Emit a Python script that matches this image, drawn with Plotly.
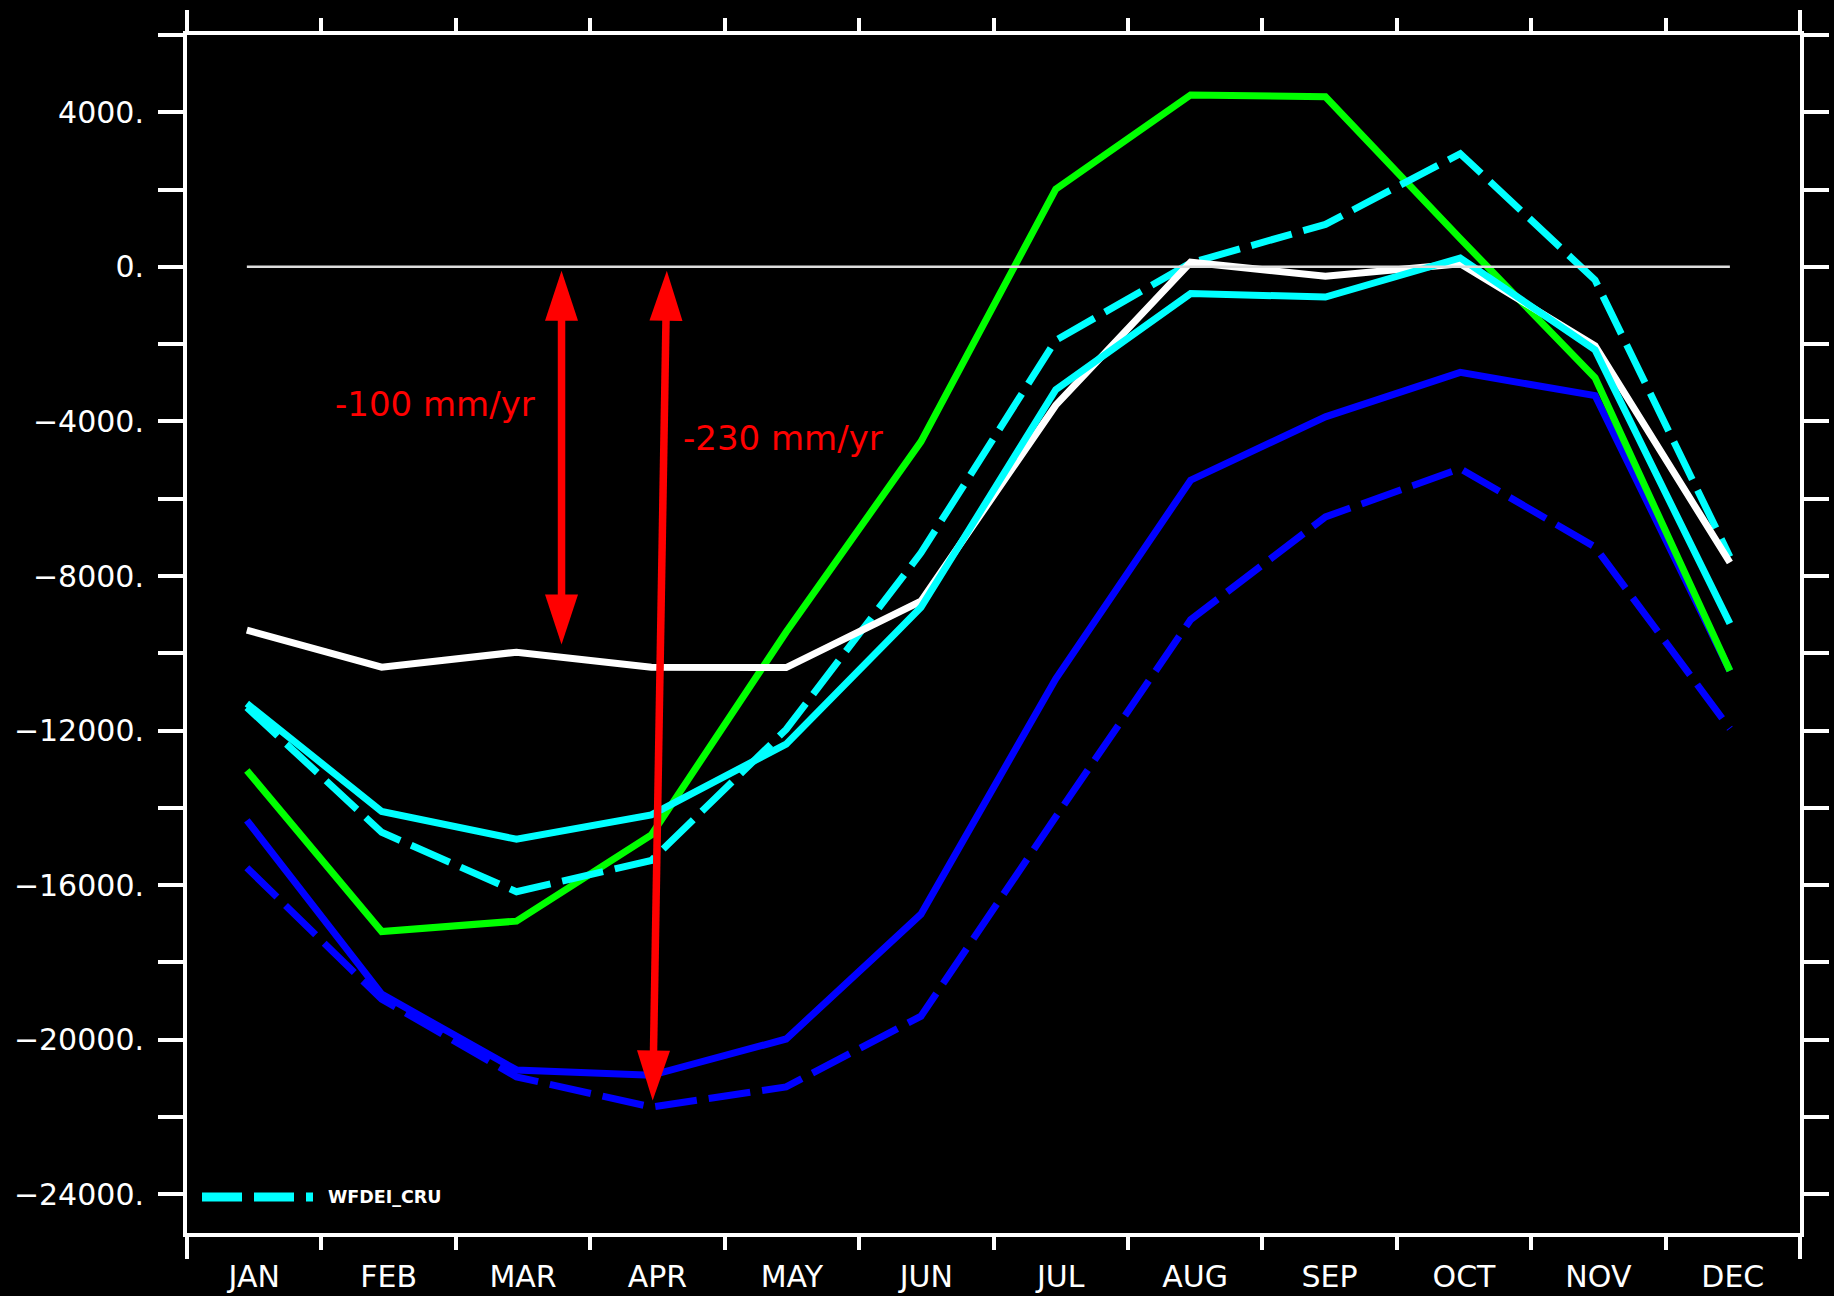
import numpy as np
import plotly.graph_objects as go

# ---------------- data ----------------
months = ["JAN", "FEB", "MAR", "APR", "MAY", "JUN", "JUL", "AUG", "SEP", "OCT", "NOV", "DEC"]
month_index = list(range(12))

white_solid = [-9400, -10360, -9970, -10360, -10370, -8650, -3580, 120, -240, 80, -2040, -7650]
green_solid = [-13030, -17200, -16930, -14700, -9450, -4520, 2010, 4450, 4400, 730, -2870, -10450]
cyan_solid = [-11300, -14090, -14810, -14180, -12350, -8810, -3180, -690, -780, 230, -2150, -9230]
cyan_dashed = [-11400, -14630, -16170, -15360, -11970, -7400, -1900, 100, 1100, 2930, -340, -7500]
blue_solid = [-14320, -18820, -20780, -20920, -19980, -16750, -10660, -5520, -3880, -2730, -3330, -10450]
blue_dashed = [-15550, -18950, -20960, -21740, -21220, -19390, -14230, -9130, -6470, -5220, -7250, -11950]
zero_line = [0] * 12

y_major = list(range(-24000, 4001, 4000))
y_minor = list(range(-24000, 6001, 2000))
y_labels = [f"{v}.".replace("-", "\u2212") for v in y_major]

legend_name = "WFDEI_CRU"

# annotation arrows (data coords): tip1 (top) and tip2 (bottom)
arrow1_x = [2.334, 2.334]
arrow1_y = [-100, -9773]
arrow2_x = [3.115, 3.01]
arrow2_y = [-100, -21570]
label1 = "-100 mm/yr"
label1_pos = (0.64, -3543)
label2 = "-230 mm/yr"
label2_pos = (3.22, -4420)

# ---------------- layout constants ----------------
FIG_W, FIG_H = 1834, 1296
M_L, M_R, M_T, M_B = 187, 34, 35, 63
PW = FIG_W - M_L - M_R
PH = FIG_H - M_T - M_B
XMIN, XMAX = -0.444, 11.52
YMIN, YMAX = -25000, 6000

FONT = "DejaVu Sans"
LW = 7
DASH = "42px,12px"

edges = np.linspace(XMIN, XMAX, 13)
x_boundaries = list(edges[1:-1])
x_centers = list((edges[:-1] + edges[1:]) / 2)


def to_px(x, y):
    return (M_L + (x - XMIN) / (XMAX - XMIN) * PW,
            M_T + (YMAX - y) / (YMAX - YMIN) * PH)


def to_data(px, py):
    return (XMIN + (px - M_L) / PW * (XMAX - XMIN),
            YMAX - (py - M_T) / PH * (YMAX - YMIN))


fig = go.Figure()

series = [
    (blue_dashed, "#0000FF", DASH),
    (blue_solid, "#0000FF", "solid"),
    (green_solid, "#00FF00", "solid"),
    (cyan_dashed, "#00FFFF", DASH),
    (white_solid, "#FFFFFF", "solid"),
    (cyan_solid, "#00FFFF", "solid"),
]

fig.add_trace(go.Scatter(x=month_index, y=zero_line, mode="lines",
                         line=dict(color="#DDDDDD", width=2.5),
                         xaxis="x2", yaxis="y2", hoverinfo="skip"))
for vals, col, dash in series:
    fig.add_trace(go.Scatter(x=month_index, y=vals, mode="lines",
                             line=dict(color=col, width=LW, dash=dash)))

shapes = []
# arrows
HL, HW, SW = 50, 33, 7.5
for ax_, ay_ in [(arrow1_x, arrow1_y), (arrow2_x, arrow2_y)]:
    a = np.array(to_px(ax_[0], ay_[0]))
    b = np.array(to_px(ax_[1], ay_[1]))
    u = (b - a) / np.linalg.norm(b - a)
    n = np.array([-u[1], u[0]])
    s0 = a + u * HL * 0.9
    s1 = b - u * HL * 0.9
    d0 = to_data(*s0)
    d1 = to_data(*s1)
    shapes.append(dict(type="line", xref="x", yref="y", x0=d0[0], y0=d0[1],
                       x1=d1[0], y1=d1[1], line=dict(color="#FF0000", width=SW)))
    for tip, dirv in [(a, u), (b, -u)]:
        base = tip + dirv * HL
        c1 = base + n * HW / 2
        c2 = base - n * HW / 2
        pts = [to_data(*tip), to_data(*c1), to_data(*c2)]
        path = "M{},{} L{},{} L{},{} Z".format(pts[0][0], pts[0][1], pts[1][0], pts[1][1], pts[2][0], pts[2][1])
        shapes.append(dict(type="path", xref="x", yref="y", path=path,
                           fillcolor="#FF0000", line=dict(color="#FF0000", width=0)))

# axis line extensions (vertical axes poke out above/below the frame)
ext_t = 25 / PH
ext_b = 26 / PH
for xp in [0, 1]:
    shapes.append(dict(type="line", xref="paper", yref="paper", x0=xp, x1=xp,
                       y0=1, y1=1 + ext_t, line=dict(color="white", width=4)))
    shapes.append(dict(type="line", xref="paper", yref="paper", x0=xp, x1=xp,
                       y0=0, y1=-ext_b, line=dict(color="white", width=4)))

# legend sample line
leg_y = (FIG_H - M_B - 1197) / PH
shapes.append(dict(type="line", xref="paper", yref="paper",
                   x0=(202 - M_L) / PW, x1=(313 - M_L) / PW, y0=leg_y, y1=leg_y,
                   line=dict(color="#00FFFF", width=9, dash="40px,12px")))

annotations = [
    dict(x=label1_pos[0], y=label1_pos[1], xref="x", yref="y", text=label1,
         showarrow=False, xanchor="left", yanchor="middle",
         font=dict(family=FONT, size=34, color="#FF0000")),
    dict(x=label2_pos[0], y=label2_pos[1], xref="x", yref="y", text=label2,
         showarrow=False, xanchor="left", yanchor="middle",
         font=dict(family=FONT, size=34, color="#FF0000")),
    dict(x=(326 - M_L) / PW, y=leg_y, xref="paper", yref="paper",
         text="<b>" + legend_name + "</b>", showarrow=False,
         xanchor="left", yanchor="middle",
         font=dict(family=FONT, size=17.5, color="white")),
]

axis_common = dict(showgrid=False, zeroline=False, showline=True,
                   linecolor="white", linewidth=4, automargin=False)

fig.update_layout(
    width=FIG_W, height=FIG_H,
    paper_bgcolor="black", plot_bgcolor="black",
    margin=dict(l=M_L, r=M_R, t=M_T, b=M_B, pad=0, autoexpand=False),
    showlegend=False,
    shapes=shapes,
    annotations=annotations,
    xaxis=dict(range=[XMIN, XMAX], tickmode="array", tickvals=x_centers,
               ticktext=months, ticks="", ticklabelstandoff=14,
               tickfont=dict(family=FONT, size=30, color="white"),
               minor=dict(tickmode="array", tickvals=x_boundaries, ticks="outside",
                          ticklen=13, tickwidth=4, tickcolor="white"),
               **axis_common),
    xaxis2=dict(range=[XMIN, XMAX], overlaying="x", side="top", anchor="y",
                tickmode="array", tickvals=x_boundaries, showticklabels=False,
                ticks="outside", ticklen=13, tickwidth=4, tickcolor="white",
                **axis_common),
    yaxis=dict(range=[YMIN, YMAX], tickmode="array", tickvals=y_major,
               ticktext=y_labels, ticks="outside", ticklen=25, tickwidth=4,
               tickcolor="white", ticklabelstandoff=8,
               tickfont=dict(family=FONT, size=30, color="white"),
               minor=dict(tickmode="array", tickvals=y_minor, ticks="outside",
                          ticklen=25, tickwidth=4, tickcolor="white"),
               **axis_common),
    yaxis2=dict(range=[YMIN, YMAX], overlaying="y", side="right", anchor="x",
                tickmode="array", tickvals=y_minor, showticklabels=False,
                ticks="outside", ticklen=25, tickwidth=4, tickcolor="white",
                **axis_common),
)

fig.write_html(
    "out.html",
    config={"displayModeBar": False},
    post_script=(
        "document.documentElement.style.margin='0';"
        "document.documentElement.style.padding='0';"
        "document.documentElement.style.overflow='hidden';"
        "document.documentElement.style.background='black';"
        "document.body.style.margin='0';"
        "document.body.style.padding='0';"
        "document.body.style.background='black';"
    ),
)
